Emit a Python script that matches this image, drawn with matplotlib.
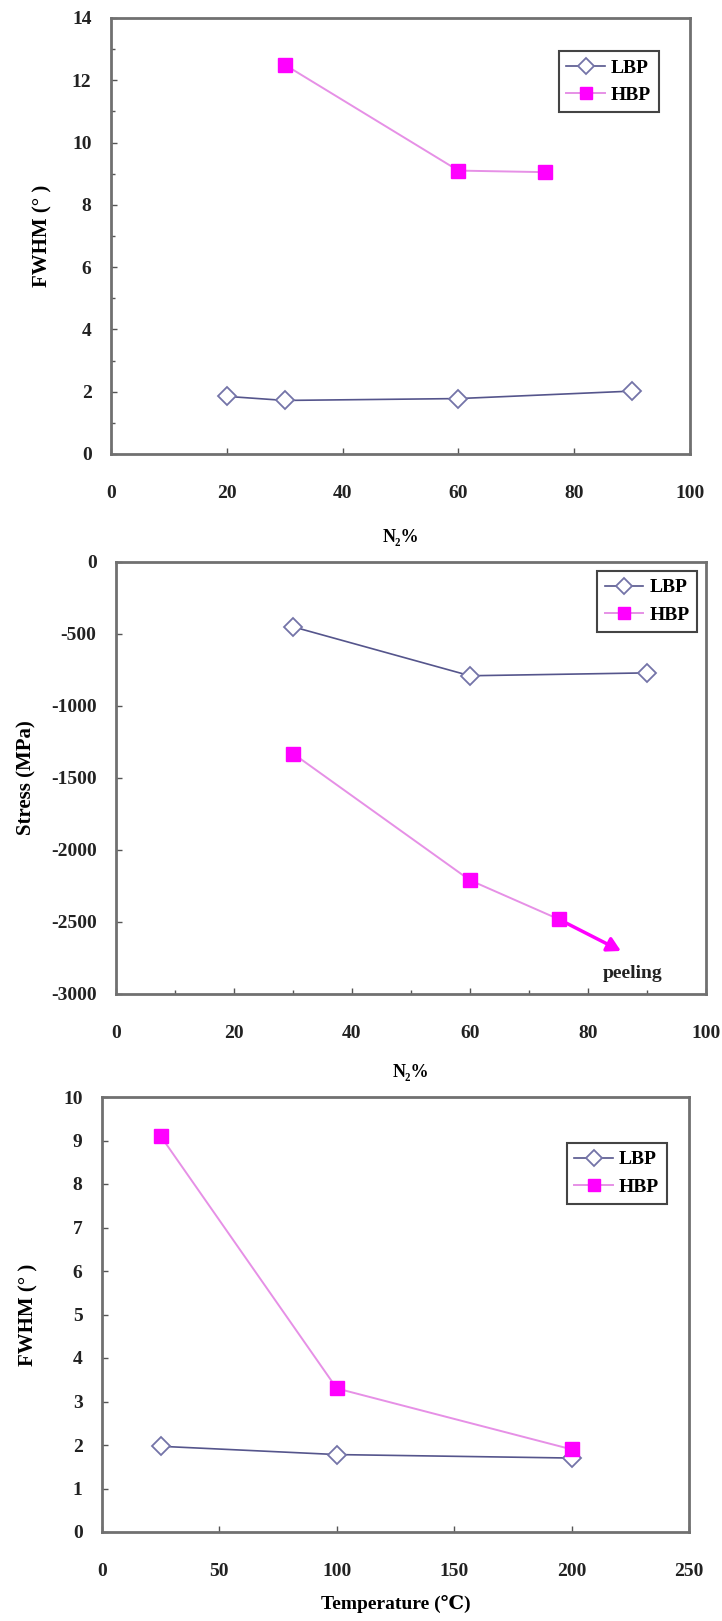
import matplotlib
matplotlib.use("Agg")
import matplotlib.pyplot as plt
from matplotlib.ticker import MultipleLocator

plt.rcParams['font.family'] = ['Liberation Serif', 'DejaVu Serif']
plt.rcParams['font.weight'] = 'bold'
plt.rcParams['axes.labelweight'] = 'bold'
plt.rcParams['axes.unicode_minus'] = False

# panel 1: FWHM vs N2%
n2_lbp_fwhm = [20, 30, 60, 90]
fwhm_lbp_n2 = [1.85, 1.72, 1.78, 2.02]
n2_hbp_fwhm = [30, 60, 75]
fwhm_hbp_n2 = [12.5, 9.1, 9.05]

# panel 2: stress vs N2%
n2_lbp_stress = [30, 60, 90]
stress_lbp = [-450, -790, -770]
n2_hbp_stress = [30, 60, 75]
stress_hbp = [-1330, -2210, -2480]
peel_start = (75, -2480)
peel_end = (86, -2710)

# panel 3: FWHM vs temperature
temp = [25, 100, 200]
fwhm_lbp_t = [1.97, 1.78, 1.70]
fwhm_hbp_t = [9.1, 3.3, 1.9]

LBP_LINE = '#55558c'
LBP_EDGE = '#7474a8'
HBP_LINE = '#e690e6'
HBP_FACE = '#ff00ff'
SPINE = '#707070'

W, H = 722, 1621
fig = plt.figure(figsize=(W / 100, H / 100), dpi=100)


def frame(px_left, px_right, px_top, px_bottom):
    return [px_left / W, 1 - px_bottom / H, (px_right - px_left) / W, (px_bottom - px_top) / H]


def style(ax, xpad=22):
    for s in ax.spines.values():
        s.set_color(SPINE)
        s.set_linewidth(2)
    ax.tick_params(direction='in', length=4, width=1, colors='#555555',
                   labelcolor='#222222', labelsize=14)
    ax.tick_params(axis='x', pad=xpad)
    ax.tick_params(axis='y', pad=14)
    ax.tick_params(which='minor', direction='in', length=3, width=1, colors='#555555')
    for lab in ax.get_xticklabels() + ax.get_yticklabels():
        lab.set_fontweight('bold')


def draw(ax, xl, yl, xh, yh):
    ax.plot(xl, yl, color=LBP_LINE, lw=1.2, marker='D', ms=9,
            mfc='white', mec=LBP_EDGE, mew=1.3, label='LBP', zorder=3)
    ax.plot(xh, yh, color=HBP_LINE, lw=1.4, marker='s', ms=10,
            mfc=HBP_FACE, mec=HBP_FACE, label='HBP', zorder=3)


def legend(ax, x, y):
    lg = ax.legend(loc='upper right', bbox_to_anchor=(x, y), fancybox=False,
                   framealpha=1, edgecolor='#444444', fontsize=14,
                   handlelength=2.0, handletextpad=0.3, borderpad=0.4,
                   labelspacing=0.5, borderaxespad=0, markerscale=0.85)
    lg.get_frame().set_linewidth(1.5)


# panel 1
ax1 = fig.add_axes(frame(111, 690, 18, 454))
draw(ax1, n2_lbp_fwhm, fwhm_lbp_n2, n2_hbp_fwhm, fwhm_hbp_n2)
ax1.set_xlim(0, 100)
ax1.set_ylim(0, 14)
ax1.set_xticks([0, 20, 40, 60, 80, 100])
ax1.set_yticks(range(0, 15, 2))
ax1.yaxis.set_minor_locator(MultipleLocator(1))
style(ax1)
ax1.set_ylabel('FWHM (° )', fontsize=15, labelpad=14)
ax1.set_xlabel('N₂%', fontsize=13, labelpad=20)
legend(ax1, 0.9465, 0.924)

# panel 2
ax2 = fig.add_axes(frame(116, 706, 562, 994))
draw(ax2, n2_lbp_stress, stress_lbp, n2_hbp_stress, stress_hbp)
ax2.annotate('', xy=peel_end, xytext=peel_start,
             arrowprops=dict(arrowstyle='-|>,head_length=0.8,head_width=0.45',
                             color=HBP_FACE, lw=2.5), zorder=4)
ax2.text(87.5, -2855, 'peeling', fontsize=14, fontweight='bold',
         ha='center', va='center', color='#222222')
ax2.set_xlim(0, 100)
ax2.set_ylim(-3000, 0)
ax2.set_xticks(range(0, 101, 20))
ax2.xaxis.set_minor_locator(MultipleLocator(10))
ax2.set_yticks(range(-3000, 1, 500))
style(ax2)
ax2.set_ylabel('Stress (MPa)', fontsize=15, labelpad=10)
ax2.set_xlabel('N₂%', fontsize=13, labelpad=16)
legend(ax2, 0.985, 0.979)

# panel 3
ax3 = fig.add_axes(frame(102, 689, 1097, 1532))
draw(ax3, temp, fwhm_lbp_t, temp, fwhm_hbp_t)
ax3.set_xlim(0, 250)
ax3.set_ylim(0, 10)
ax3.set_xticks(range(0, 251, 50))
ax3.set_yticks(range(0, 11))
style(ax3, xpad=22)
ax3.set_ylabel('FWHM (° )', fontsize=15, labelpad=18)
ax3.set_xlabel('Temperature (℃)', fontsize=14, labelpad=11)
legend(ax3, 0.9625, 0.894)

fig.savefig('out.png', dpi=100, facecolor='white')
